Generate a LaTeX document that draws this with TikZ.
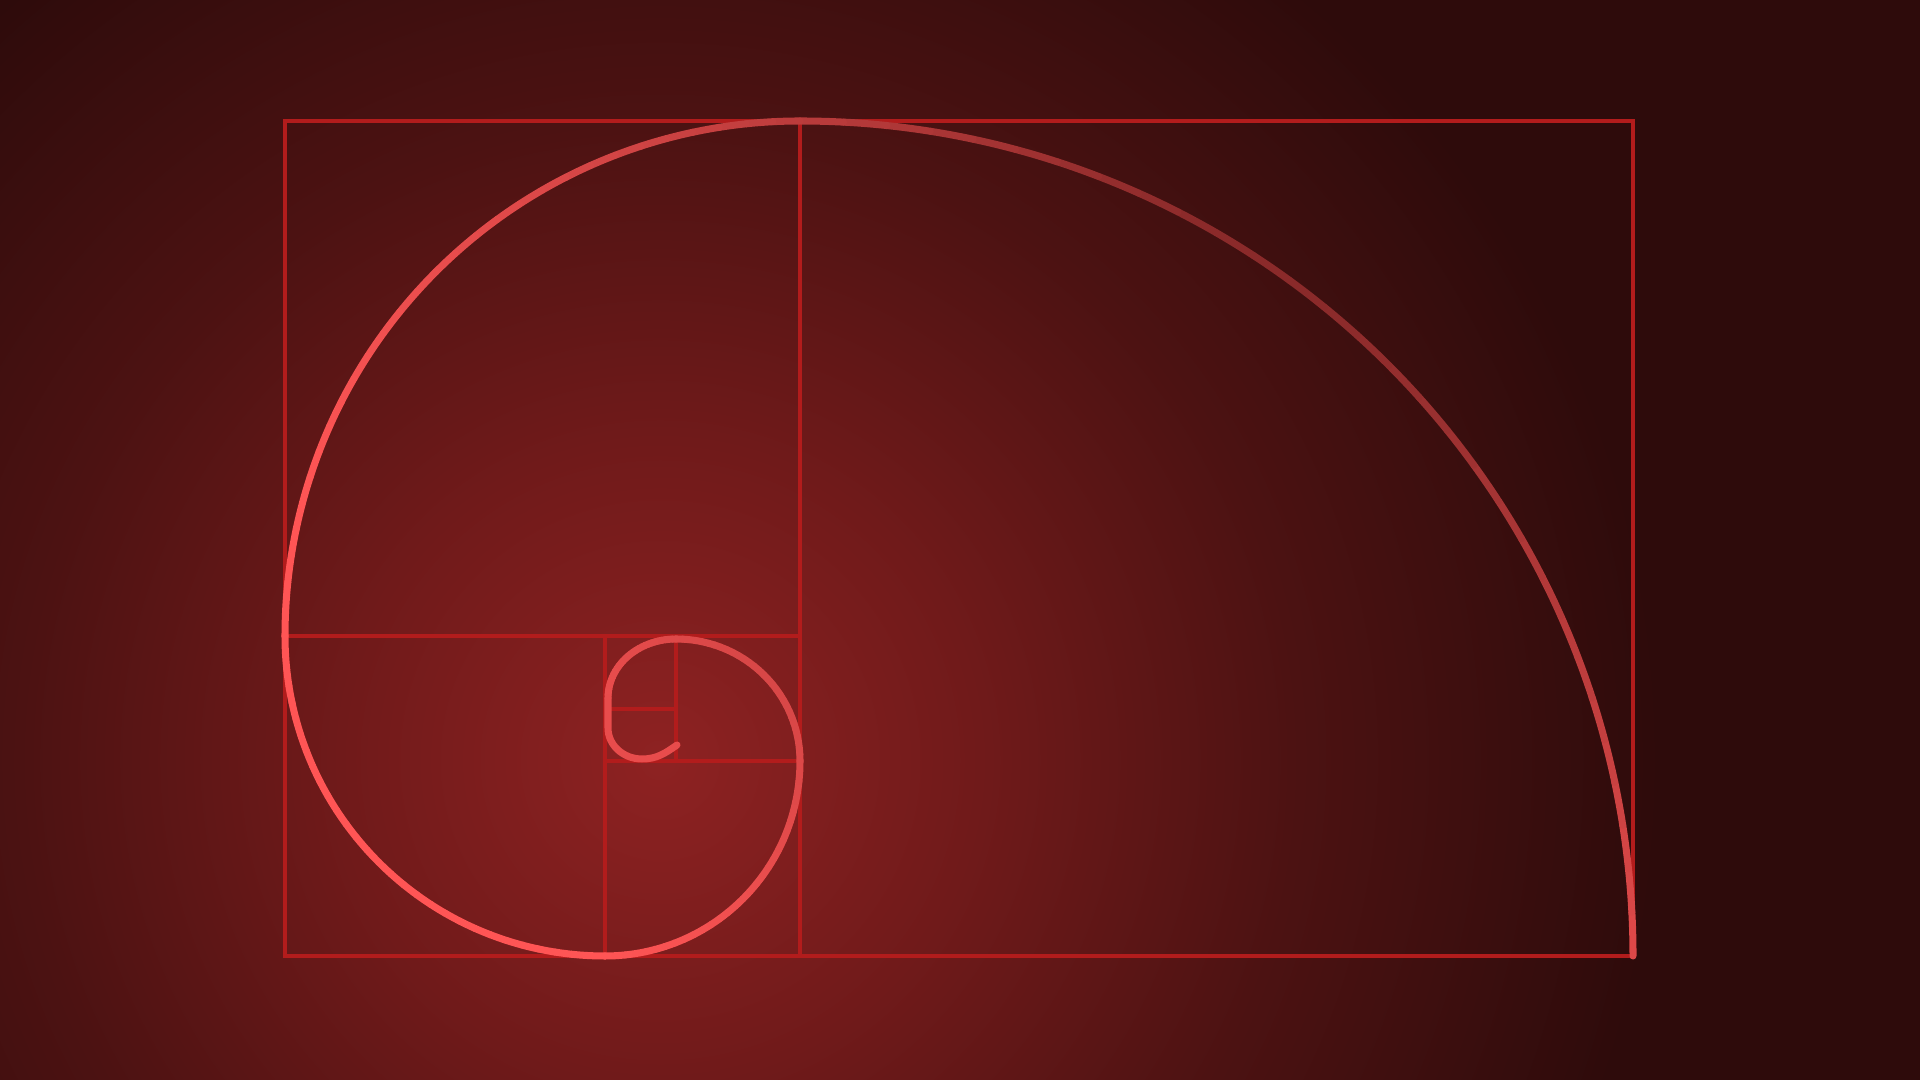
\documentclass[tikz,border=0pt]{standalone}
\usepackage{xcolor}
\usepackage{tikz}
\usetikzlibrary{calc}

% Couleurs du fond
\definecolor{fondCentre}{RGB}{142,34,34}
\definecolor{fondMilieu}{RGB}{112,26,26}
\definecolor{fondBord}{RGB}{76,18,18}
\definecolor{fondCoin}{RGB}{46,11,11}
\pgfdeclareradialshading{fondlueur}{\pgfpoint{0bp}{0bp}}{%
  color(0bp)=(fondCentre); color(8bp)=(fondMilieu);
  color(16bp)=(fondBord); color(25bp)=(fondCoin); color(50bp)=(fondCoin)}

\begin{document}
\begin{tikzpicture}
		% Couleurs des traits
		\definecolor{cadre}{RGB}{178,28,28}
		\definecolor{spirHi}{RGB}{255,85,85}
		\definecolor{spirLo}{RGB}{138,42,42}
		\tikzset{
			grille/.style={cadre, line width=1.3pt},
			spirale/.style={line width=2pt, line cap=round}
		}
		
		% Arc de spirale en petits morceaux (degrade)
		% #1,#2 = centre, #3,#4 = rayons, #5,#6 = angles
		\def\arcspirale#1#2#3#4#5#6{
			\foreach \k in {1,...,30}{
				\pgfmathsetmacro{\aa}{#5+(#6-#5)*(\k-1)/30}
				\pgfmathsetmacro{\ab}{#5+(#6-#5)*\k/30}
				\pgfmathsetmacro{\am}{(\aa+\ab)/2}
				\pgfmathsetmacro{\dd}{veclen(#1+#3*cos(\am)-13.5, #2+#4*sin(\am)-9.3)}
				\pgfmathtruncatemacro{\tm}{max(0,min(100,(\dd-1.5)/9.5*100))}
				\draw[spirale, spirHi!\tm!spirLo]
				({#1+#3*cos(\aa)}, {#2+#4*sin(\aa)})
				arc[start angle=\aa, end angle=\ab, x radius=#3, y radius=#4];
			}
		}
		
		% Fond
		\useasboundingbox (0,0) rectangle (19.2,10.8);
		\begin{scope}
			\clip (0,0) rectangle (19.2,10.8);
			\fill[fondCoin] (0,0) rectangle (19.2,10.8);
			\shade[shading=fondlueur] (6.6,3.2) circle (10);
		\end{scope}
		
		% Rectangle d'or et ses carres
		\draw[grille] (2.85,1.24) rectangle (16.33,9.59);
		\draw[grille] (8.00,1.24) -- (8.00,9.59);
		\draw[grille] (2.85,4.44) -- (8.00,4.44);
		\draw[grille] (6.05,1.24) -- (6.05,4.44);
		\draw[grille] (6.05,3.19) -- (8.00,3.19);
		\draw[grille] (6.76,3.19) -- (6.76,4.44);
		\draw[grille] (6.05,3.71) -- (6.76,3.71);
		
		% Spirale
		\arcspirale{8.00}{1.24}{8.33}{8.35}{0}{90}
		\arcspirale{8.00}{4.44}{5.15}{5.15}{90}{180}
		\arcspirale{6.05}{4.44}{3.20}{3.20}{180}{270}
		\arcspirale{6.05}{3.19}{1.95}{1.95}{270}{360}
		\arcspirale{6.76}{3.19}{1.24}{1.22}{0}{90}
		\arcspirale{6.76}{3.82}{0.68}{0.59}{90}{180}
		\draw[spirale, spirHi!80!spirLo] (6.08,3.82) -- (6.08,3.52)
		arc[start angle=180, end angle=270, x radius=0.34, y radius=0.31]
		to[out=0, in=215] (6.77,3.35);
	\end{tikzpicture}
\end{document}
